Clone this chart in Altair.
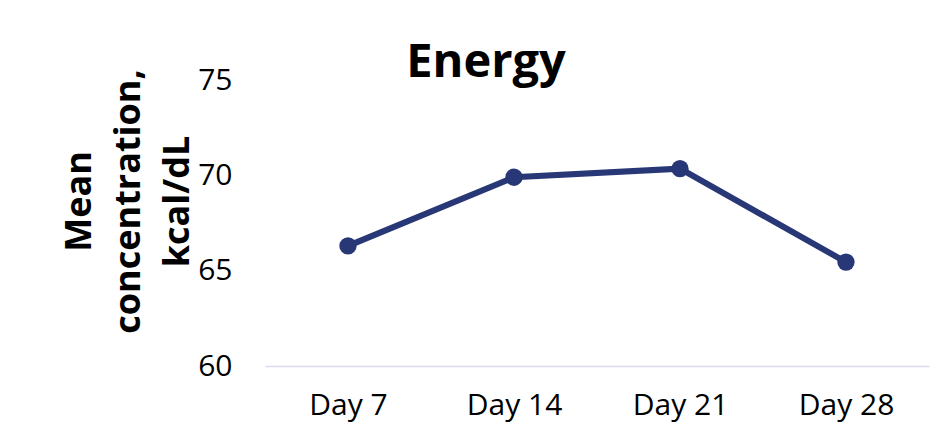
import altair as alt
import pandas as pd

days = ["Day 7", "Day 14", "Day 21", "Day 28"]
energy = [66.3, 69.9, 70.35, 65.45]

df = pd.DataFrame({"day": days, "value": energy})

color = "#283775"
font = "Open Sans"

x = alt.X("day:N", sort=days, title=None,
          scale=alt.Scale(paddingInner=0, paddingOuter=0.5),
          axis=alt.Axis(labelAngle=0, labelFontSize=30, labelFont=font, labelColor="#000",
                        labelPadding=24, ticks=False, domainColor="#D9DCF0", domainWidth=1.5,
                        grid=False))
y = alt.Y("value:Q", scale=alt.Scale(domain=[60, 75], nice=False, zero=False),
          title=["Mean", "concentration,", "kcal/dL"],
          axis=alt.Axis(values=[60, 65, 70, 75], grid=False, ticks=False, domain=False,
                        labelFontSize=30, labelFont=font, labelColor="#000", labelPadding=33,
                        titleFont=font, titleFontSize=36, titleFontWeight="bold",
                        titleColor="#000", titleLineHeight=49, titleX=-167, titleY=121,
                        titleAngle=-90, titleAlign="center", titleBaseline="bottom"))

line = alt.Chart(df).mark_line(color=color, strokeWidth=6).encode(x=x, y=y)
pts = alt.Chart(df).mark_circle(color=color, size=300, opacity=1).encode(x=x, y=y)

chart = (line + pts).properties(
    width=664, height=286,
    title=alt.TitleParams("Energy", font=font, fontSize=47, fontWeight="bold", color="#000",
                          anchor="middle", dx=-111, dy=62, baseline="alphabetic", offset=3),
    autosize=alt.AutoSizeParams(type="none"),
    padding={"left": 257, "top": 72, "right": 10, "bottom": 66},
).configure(background="white").configure_view(strokeWidth=0, stroke="transparent")

chart.save("out.html", embed_options={"renderer": "svg", "actions": False})
